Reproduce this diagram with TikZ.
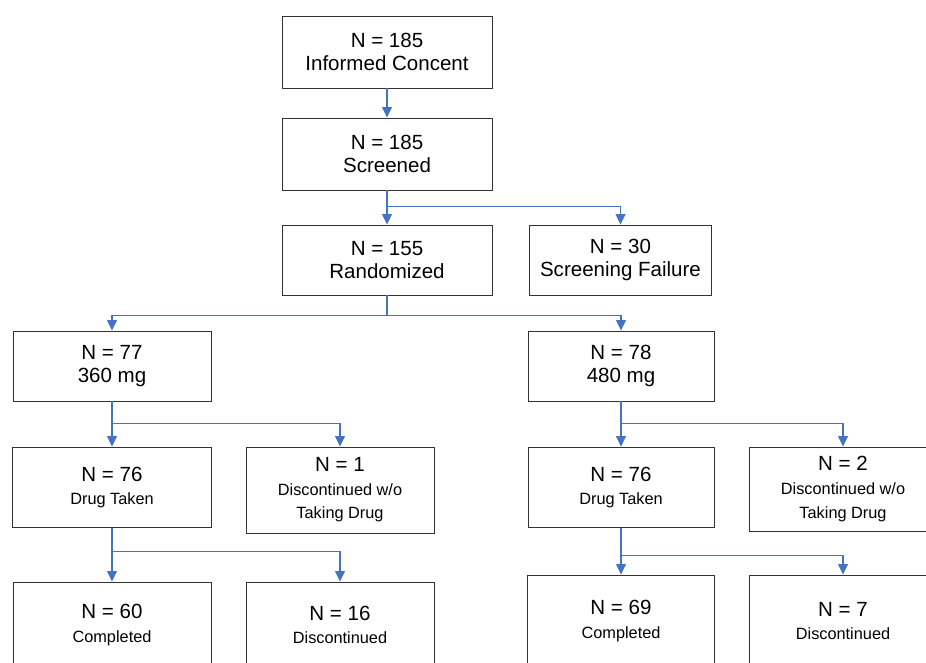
\documentclass[tikz,border=0pt]{standalone}
\usepackage{fontspec}
\setmainfont{Liberation Sans}
\usetikzlibrary{arrows.meta}
\definecolor{linkblue}{RGB}{68,114,196}
\newcommand\bigtxt{\fontsize{14.6}{16.8}\selectfont}
\newcommand\smalltxt{\fontsize{11.6}{14.2}\selectfont}
\tikzset{
  box/.style={draw=black!80, line width=0.6pt, align=center, inner sep=0pt, font=\bigtxt},
  link/.style={draw=linkblue, line width=0.9pt},
  arr/.style={link, -{Triangle[width=7pt,length=7.5pt]}}
}
\begin{document}
\begin{tikzpicture}[x=0.025cm, y=-0.025cm]
    \useasboundingbox (0,0) rectangle (926,663);
    \clip (0,0) rectangle (926,663);
    % top of the chart
    \node[box, minimum width=5.25cm, minimum height=1.8cm] (consent) at (387,52) {N = 185\\Informed Concent};
    \node[box, minimum width=5.25cm, minimum height=1.8cm] (screened) at (387,154) {N = 185\\Screened};
    \node[box, minimum width=5.25cm, minimum height=1.75cm] (rand) at (387,260) {N = 155\\Randomized};
    \node[box, minimum width=4.53cm, minimum height=1.75cm] (fail) at (620.5,260) {N = 30\\Screening Failure};
    % the two dose arms
    \node[box, minimum width=4.95cm, minimum height=1.75cm] (dose360) at (112,366) {N = 77\\360 mg};
    \node[box, minimum width=4.65cm, minimum height=1.75cm] (dose480) at (621,366) {N = 78\\480 mg};
    \node[box, minimum width=4.97cm, minimum height=2.02cm] (taken360) at (112,487.5) {N = 76\\{\smalltxt Drug Taken}};
    \node[box, minimum width=4.7cm, minimum height=2.15cm] (nodrug360) at (340,490) {N = 1\\{\smalltxt Discontinued w/o}\\{\smalltxt Taking Drug}};
    \node[box, minimum width=4.65cm, minimum height=2.02cm] (taken480) at (621,487.5) {N = 76\\{\smalltxt Drug Taken}};
    \node[box, minimum width=4.7cm, minimum height=2.1cm] (nodrug480) at (843,489) {N = 2\\{\smalltxt Discontinued w/o}\\{\smalltxt Taking Drug}};
    \node[box, minimum width=4.95cm, minimum height=2.15cm] (comp360) at (112,625) {N = 60\\{\smalltxt Completed}};
    \node[box, minimum width=4.7cm, minimum height=2.15cm] (disc360) at (340,625) {N = 16\\{\smalltxt Discontinued}};
    \node[box, minimum width=4.68cm, minimum height=2.3cm] (comp480) at (621,621) {N = 69\\{\smalltxt Completed}};
    \node[box, minimum width=4.7cm, minimum height=2.3cm] (disc480) at (843,621) {N = 7\\{\smalltxt Discontinued}};
    % connectors
    \foreach \a/\b in {consent/screened, screened/rand, dose360/taken360, taken360/comp360, dose480/taken480, taken480/comp480}
      \draw[arr] (\a.south) -- (\b.north);
    \path (screened.south) ++(0,16) coordinate (splitscr);
    \draw[arr] (splitscr) -| (fail.north);
    \draw[link] (rand.south) -- ++(0,20) coordinate (splitrand);
    \draw[arr] (splitrand) -| (dose360.north);
    \draw[arr] (splitrand) -| (dose480.north);
    \path (dose360.south) ++(0,22) coordinate (split360);
    \draw[arr] (split360) -| (nodrug360.north);
    \path (taken360.south) ++(0,23) coordinate (splittk360);
    \draw[arr] (splittk360) -| (disc360.north);
    \path (dose480.south) ++(0,22) coordinate (split480);
    \draw[arr] (split480) -| (nodrug480.north);
    \path (taken480.south) ++(0,27) coordinate (splittk480);
    \draw[arr] (splittk480) -| (disc480.north);
\end{tikzpicture}
\end{document}
